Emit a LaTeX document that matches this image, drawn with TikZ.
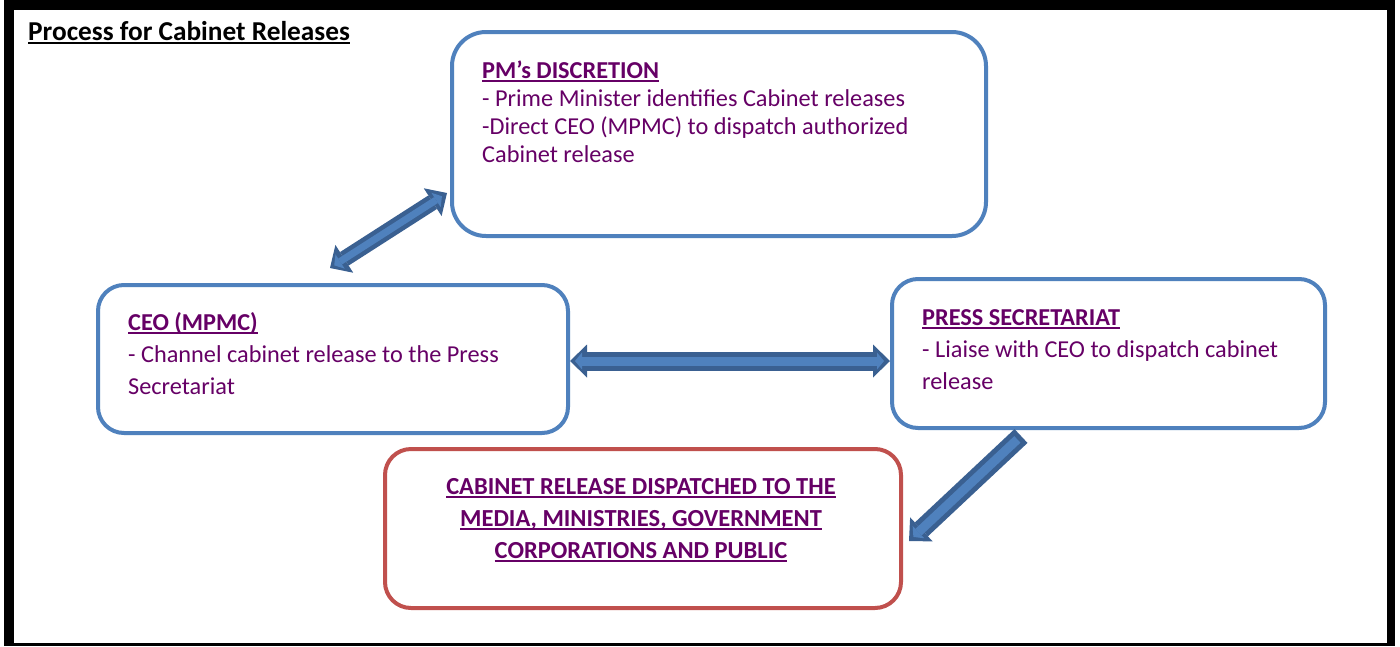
\documentclass[tikz,border=0pt]{standalone}
\usepackage{fontspec}
\setmainfont{Carlito}
\usetikzlibrary{arrows.meta}

\definecolor{boxblue}{HTML}{4F81BD}
\definecolor{boxred}{HTML}{C0504D}
\definecolor{arrowedge}{HTML}{3A6091}
\definecolor{arrowfill}{HTML}{4F81BD}
\definecolor{textpurple}{HTML}{660066}

% underlined text with a heavier rule
\newcommand{\undl}[1]{\setbox0=\hbox{#1}\rlap{\rule[-3.5pt]{\wd0}{1.6pt}}\box0}

\tikzset{
  bluebox/.style={draw=boxblue, line width=4pt, rounded corners=26pt, inner sep=0pt},
  redbox/.style={draw=boxred, line width=4pt, rounded corners=26pt, inner sep=0pt},
  boxtext/.style={text=textpurple, align=left, anchor=base west, inner sep=0pt,
    font=\fontsize{24.3}{32}\selectfont},
  arrowback/.style={draw=arrowedge, line width=19pt,
    >={Triangle[length=17pt,width=33pt,line width'=0pt]}},
  arrowfront/.style={draw=arrowfill, line width=9pt, shorten >=6pt, shorten <=5pt,
    >={Triangle[length=7pt,width=17pt,line width'=0pt]}},
}

\begin{document}
\begin{tikzpicture}[x=1pt,y=-1pt]
\useasboundingbox (0,0) rectangle (1400,646);
% outer frame
\fill[black] (4,0) rectangle (1395,646);
\fill[white] (14,10) rectangle (1387,643);
\node[anchor=base west, inner sep=0pt, font=\bfseries\fontsize{27.3}{30}\selectfont] (title) at (28,40) {\undl{Process for Cabinet Releases}};

% boxes
\node[bluebox, rounded corners=34pt, minimum width=534pt, minimum height=204pt] (pm) at (719,134) {};
\node[bluebox, minimum width=470pt, minimum height=148pt] (ceo) at (333,359) {};
\node[bluebox, minimum width=433pt, minimum height=149pt] (press) at (1108.5,353.5) {};
\node[redbox, minimum width=516pt, minimum height=159pt] (result) at (643,528.5) {};

% box texts (base = last line)
\node[boxtext, font=\fontsize{24.3}{28}\selectfont] (pmtext) at (482,162) {\undl{\textbf{PM’s DISCRETION}}\\
- Prime Minister identifies Cabinet releases\\
-Direct CEO (MPMC) to dispatch authorized\\
Cabinet release};
\node[boxtext] (ceotext) at (128,394) {\undl{\textbf{CEO (MPMC)}}\\
- Channel cabinet release to the Press\\
Secretariat};
\node[boxtext] (presstext) at (922,389) {\undl{\textbf{PRESS SECRETARIAT}}\\
- Liaise with CEO to dispatch cabinet\\
release};
\node[boxtext, anchor=base, align=center, font=\bfseries\fontsize{24.5}{32}\selectfont] (resulttext) at (641,558) {\undl{CABINET RELEASE DISPATCHED TO THE}\\
\undl{MEDIA, MINISTRIES, GOVERNMENT}\\
\undl{CORPORATIONS AND PUBLIC}};

% block arrows
\draw[arrowback, <->, line width=16pt] ([xshift=-3pt,yshift=15pt]ceo.north) -- ([xshift=-3pt,yshift=45pt]pm.south west);
\draw[arrowfront, <->, line width=7pt] ([xshift=-3pt,yshift=15pt]ceo.north) -- ([xshift=-3pt,yshift=45pt]pm.south west);
\draw[arrowback, <->] ([yshift=-2pt]ceo.east) -- ([yshift=-2pt]ceo.east -| press.west);
\draw[arrowfront, <->] ([yshift=-2pt]ceo.east) -- ([yshift=-2pt]ceo.east -| press.west);
\draw[arrowback, ->] ([xshift=-87.5pt,yshift=-6pt]press.south) -- ([xshift=6pt,yshift=-12.5pt]result.east);
\draw[arrowfront, ->, shorten <=5pt] ([xshift=-87.5pt,yshift=-6pt]press.south) -- ([xshift=6pt,yshift=-12.5pt]result.east);
\end{tikzpicture}
\end{document}
